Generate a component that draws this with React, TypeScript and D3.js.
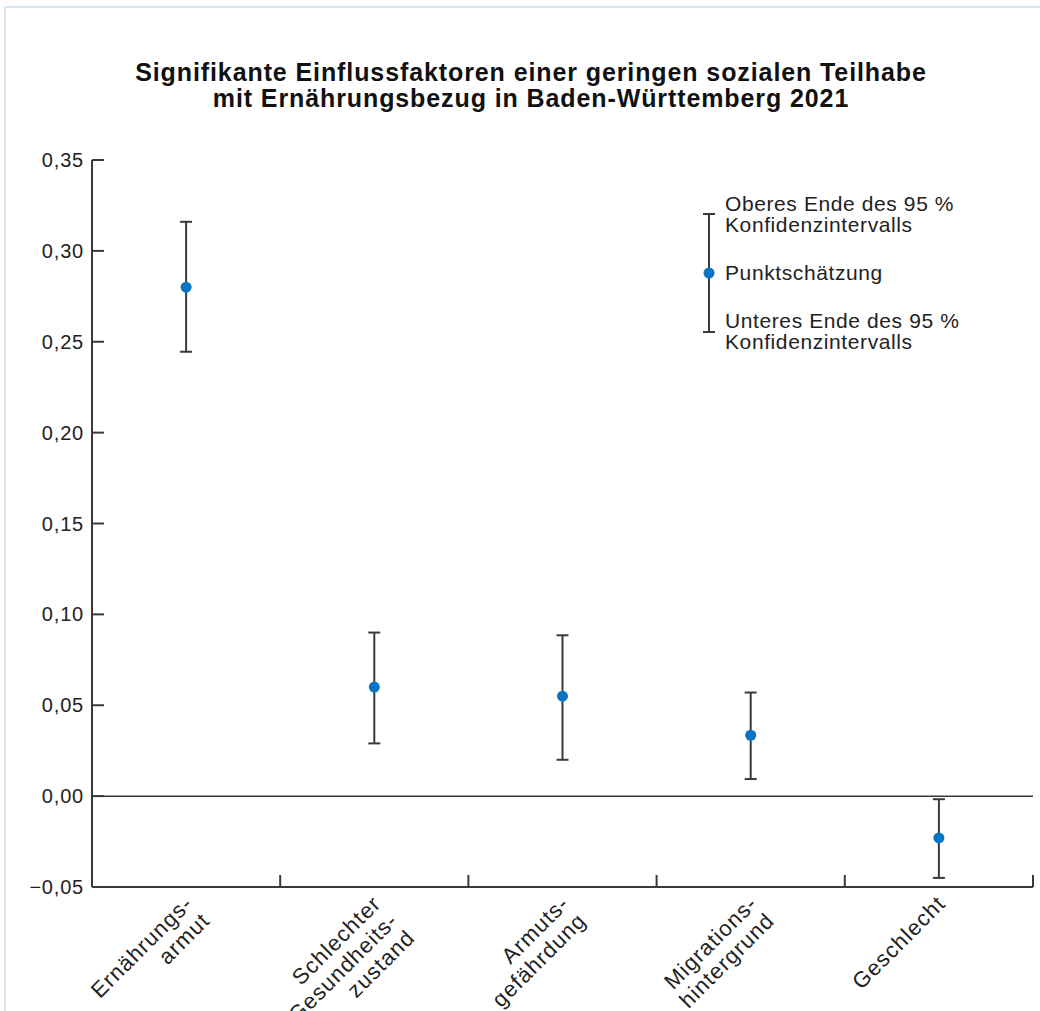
import React from 'react';
import * as d3 from 'd3';

const categories: string[][] = [
  ['Ernährungs-', 'armut'],
  ['Schlechter', 'Gesundheits-', 'zustand'],
  ['Armuts-', 'gefährdung'],
  ['Migrations-', 'hintergrund'],
  ['Geschlecht'],
];
const estimates = [0.28, 0.06, 0.055, 0.0335, -0.023];
const upper = [0.316, 0.09, 0.0885, 0.057, -0.0017];
const lower = [0.2445, 0.029, 0.02, 0.0094, -0.045];
const yTicks = [-0.05, 0, 0.05, 0.1, 0.15, 0.2, 0.25, 0.3, 0.35];

const titleLines = [
  'Signifikante Einflussfaktoren einer geringen sozialen Teilhabe',
  'mit Ernährungsbezug in Baden-Württemberg 2021',
];

const W = 1040;
const H = 1011;
const margin = { top: 160, right: 7, bottom: 124, left: 92 };
const font = 'Liberation Sans, Arial, Helvetica, sans-serif';
const ink = '#222';
const lineCol = '#3a3a3a';
const dotCol = '#0a74c4';

const fmt = (v: number) =>
  (v < 0 ? '\u2212' : '') + Math.abs(v).toFixed(2).replace('.', ',');

const App: React.FC = () => {
  const x = d3
    .scaleBand<number>()
    .domain(d3.range(categories.length))
    .range([margin.left, W - margin.right]);
  const y = d3
    .scaleLinear()
    .domain([-0.05, 0.35])
    .range([H - margin.bottom, margin.top]);

  const cx = (i: number) => (x(i) ?? 0) + x.bandwidth() / 2;
  const axisY = y(-0.05);
  const cap = 6;

  // legend bar in chart pixels
  const lg = { x: 709, top: 214, mid: 273, bottom: 332 };

  return (
    <svg
      width={W}
      height={H}
      style={{ position: 'absolute', left: 0, top: 0, background: '#fff' }}
      fontFamily={font}
    >
      {/* frame */}
      <path d={`M5,${H} V7 H${W}`} fill="none" stroke="#dbe5f1" strokeWidth={2} />

      {/* title */}
      <g fontWeight="bold" fontSize={25} fill="#111" textAnchor="middle" letterSpacing={0.9}>
        {titleLines.map((t, i) => (
          <text key={i} x={531} y={81 + i * 26}>
            {t}
          </text>
        ))}
      </g>

      {/* y axis */}
      <line x1={margin.left} x2={margin.left} y1={y(0.35)} y2={axisY} stroke={lineCol} strokeWidth={2} />
      {yTicks.map(t => (
        <g key={t}>
          <line x1={margin.left} x2={margin.left + 12} y1={y(t)} y2={y(t)} stroke={lineCol} strokeWidth={2} />
          <text x={margin.left - 8} y={y(t)} dy="0.35em" textAnchor="end" fontSize={20} letterSpacing={0.8} fill={ink}>
            {fmt(t)}
          </text>
        </g>
      ))}

      {/* x axis + zero line */}
      <line x1={margin.left} x2={W - margin.right} y1={axisY} y2={axisY} stroke={lineCol} strokeWidth={2} />
      <line x1={margin.left} x2={W - margin.right} y1={y(0)} y2={y(0)} stroke={lineCol} strokeWidth={1.5} />
      {categories.map((_, i) => {
        const bx = (x(i) ?? 0) + x.bandwidth();
        return (
          <line key={i} x1={bx} x2={bx} y1={axisY} y2={axisY - 12} stroke={lineCol} strokeWidth={2} />
        );
      })}

      {/* x labels */}
      {categories.map((lines, i) => (
        <text
          key={i}
          transform={`translate(${cx(i) + 8},${axisY + 18}) rotate(-45)`}
          textAnchor="end"
          fontSize={22}
          letterSpacing={1.1}
          fill={ink}
        >
          {lines.map((l, j) => (
            <tspan key={j} x={0} dy={j === 0 ? 0 : 24}>
              {l}
            </tspan>
          ))}
        </text>
      ))}

      {/* error bars */}
      {estimates.map((v, i) => (
        <g key={i}>
          <line x1={cx(i)} x2={cx(i)} y1={y(upper[i])} y2={y(lower[i])} stroke={lineCol} strokeWidth={2} />
          <line x1={cx(i) - cap} x2={cx(i) + cap} y1={y(upper[i])} y2={y(upper[i])} stroke={lineCol} strokeWidth={2} />
          <line x1={cx(i) - cap} x2={cx(i) + cap} y1={y(lower[i])} y2={y(lower[i])} stroke={lineCol} strokeWidth={2} />
          <circle cx={cx(i)} cy={y(v)} r={5.5} fill={dotCol} />
        </g>
      ))}

      {/* legend */}
      <line x1={lg.x} x2={lg.x} y1={lg.top} y2={lg.bottom} stroke={lineCol} strokeWidth={2} />
      <line x1={lg.x - cap} x2={lg.x + cap} y1={lg.top} y2={lg.top} stroke={lineCol} strokeWidth={2} />
      <line x1={lg.x - cap} x2={lg.x + cap} y1={lg.bottom} y2={lg.bottom} stroke={lineCol} strokeWidth={2} />
      <circle cx={lg.x} cy={lg.mid} r={5.5} fill={dotCol} />
      <g fontSize={21} fill={ink} letterSpacing={0.6}>
        <text x={725} y={211}>Oberes Ende des 95 %</text>
        <text x={725} y={232}>Konfidenzintervalls</text>
        <text x={725} y={280}>Punktschätzung</text>
        <text x={725} y={328}>Unteres Ende des 95 %</text>
        <text x={725} y={349}>Konfidenzintervalls</text>
      </g>
    </svg>
  );
};

export default App;
